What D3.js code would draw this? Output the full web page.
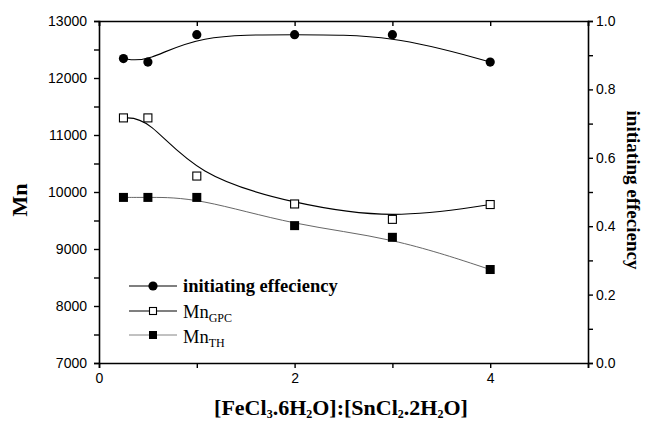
<!DOCTYPE html>
<html>
<head>
<meta charset="utf-8">
<script src="https://cdn.jsdelivr.net/npm/d3@7"></script>
<style>
  html, body { margin: 0; padding: 0; background: #fff; }
  svg { display: block; }
  .tick text { font-family: "Liberation Sans", Arial, sans-serif; font-size: 14px; fill: #000; }
  .serif { font-family: "Liberation Serif", "Times New Roman", serif; }
</style>
</head>
<body>
<svg id="chart" width="646" height="422"></svg>
<script>
// Molar ratio of [FeCl3.6H2O]:[SnCl2.2H2O]
const ratio = [0.25, 0.5, 1, 2, 3, 4];
// Initiating efficiency (right axis)
const efficiency = [0.89, 0.88, 0.96, 0.96, 0.96, 0.88];
// Number-average molecular weight from GPC
const mnGPC = [11300, 11300, 10280, 9790, 9520, 9780];
// Theoretical number-average molecular weight
const mnTH = [9905, 9905, 9905, 9410, 9205, 8640];

const xTicks = [0, 1, 2, 3, 4, 5];
const xLabels = [0, 2, 4];
const yTicks = d3.range(7000, 13001, 500);
const yLabels = [7000, 8000, 9000, 10000, 11000, 12000, 13000];
const y2Ticks = d3.range(0, 1.001, 0.1);
const y2Labels = [0, 0.2, 0.4, 0.6, 0.8, 1.0];

const svg = d3.select("#chart");
const m = { left: 99, right: 588, top: 21, bottom: 363 };

const x = d3.scaleLinear().domain([0, 5]).range([m.left, m.right]);
const y = d3.scaleLinear().domain([7000, 13000]).range([m.bottom, m.top]);
const y2 = d3.scaleLinear().domain([0, 1]).range([m.bottom, m.top]);

function styleAxis(g) {
  g.select(".domain").attr("stroke", "#000").attr("stroke-width", 1.6);
  g.selectAll(".tick line").attr("stroke", "#000").attr("stroke-width", 1.4);
}

// Bottom axis
svg.append("g").attr("transform", `translate(0,${m.bottom})`)
  .call(d3.axisBottom(x).tickValues(xTicks).tickSizeOuter(0).tickSize(5).tickPadding(5)
    .tickFormat(d => xLabels.includes(d) ? d : ""))
  .call(styleAxis);

// Top axis (inward ticks)
svg.append("g").attr("transform", `translate(0,${m.top})`)
  .call(d3.axisTop(x).tickValues(xTicks).tickSizeOuter(0).tickSize(-5).tickFormat(""))
  .call(styleAxis);

// Left axis
svg.append("g").attr("transform", `translate(${m.left},0)`)
  .call(d3.axisLeft(y).tickValues(yTicks).tickSizeOuter(0).tickSize(5).tickPadding(7)
    .tickFormat(d => yLabels.includes(d) ? d : ""))
  .call(styleAxis);

// Right axis
svg.append("g").attr("transform", `translate(${m.right},0)`)
  .call(d3.axisRight(y2).tickValues(y2Ticks).tickSizeOuter(0).tickSize(5).tickPadding(3)
    .tickFormat(d => y2Labels.some(v => Math.abs(v - d) < 1e-9) ? d3.format(".1f")(d) : ""))
  .call(styleAxis);

// Smoothed curves
const lineEff = d3.line().x((d, i) => x(ratio[i])).y(d => y2(d)).curve(d3.curveBasis);
const lineMn = d3.line().x((d, i) => x(ratio[i])).y(d => y(d)).curve(d3.curveBasis);

svg.append("path").attr("d", lineEff(efficiency)).attr("fill", "none").attr("stroke", "#000").attr("stroke-width", 1.1);
svg.append("path").attr("d", lineMn(mnGPC)).attr("fill", "none").attr("stroke", "#000").attr("stroke-width", 1.1);
svg.append("path").attr("d", lineMn(mnTH)).attr("fill", "none").attr("stroke", "#555").attr("stroke-width", 0.9);

// Markers
svg.append("g").selectAll("circle").data(efficiency).join("circle")
  .attr("cx", (d, i) => x(ratio[i])).attr("cy", d => y2(d)).attr("r", 4.6).attr("fill", "#000");

svg.append("g").selectAll("rect").data(mnGPC).join("rect")
  .attr("x", (d, i) => x(ratio[i]) - 4).attr("y", d => y(d) - 4)
  .attr("width", 8).attr("height", 8).attr("fill", "#fff").attr("stroke", "#000").attr("stroke-width", 1.1);

svg.append("g").selectAll("rect").data(mnTH).join("rect")
  .attr("x", (d, i) => x(ratio[i]) - 4.5).attr("y", d => y(d) - 4.5)
  .attr("width", 9).attr("height", 9).attr("fill", "#000");

// Legend
const legend = svg.append("g");
const lx0 = 129, lx1 = 177, lmx = 153;
const rows = [
  { y: 286, stroke: "#000", sw: 1.1, marker: "circle" },
  { y: 311, stroke: "#000", sw: 1.1, marker: "open" },
  { y: 335, stroke: "#777", sw: 0.9, marker: "filled" }
];
rows.forEach(r => {
  legend.append("line").attr("x1", lx0).attr("x2", lx1).attr("y1", r.y).attr("y2", r.y)
    .attr("stroke", r.stroke).attr("stroke-width", r.sw);
  if (r.marker === "circle") {
    legend.append("circle").attr("cx", lmx).attr("cy", r.y).attr("r", 4.6).attr("fill", "#000");
  } else if (r.marker === "open") {
    legend.append("rect").attr("x", lmx - 3.5).attr("y", r.y - 3.5).attr("width", 7).attr("height", 7)
      .attr("fill", "#fff").attr("stroke", "#000").attr("stroke-width", 1.1);
  } else {
    legend.append("rect").attr("x", lmx - 4).attr("y", r.y - 4).attr("width", 8).attr("height", 8).attr("fill", "#000");
  }
});
legend.append("text").attr("class", "serif").attr("x", 183).attr("y", 292)
  .attr("font-size", 18.5).attr("font-weight", "bold").text("initiating effeciency");
const t2 = legend.append("text").attr("class", "serif").attr("x", 183).attr("y", 318).attr("font-size", 18.5);
t2.append("tspan").text("Mn");
t2.append("tspan").attr("font-size", 12).attr("dy", 4).text("GPC");
const t3 = legend.append("text").attr("class", "serif").attr("x", 183).attr("y", 343).attr("font-size", 18.5);
t3.append("tspan").text("Mn");
t3.append("tspan").attr("font-size", 12).attr("dy", 4).text("TH");

// Axis titles
svg.append("text").attr("class", "serif").attr("font-size", 22).attr("font-weight", "bold")
  .attr("text-anchor", "middle").attr("transform", "translate(27,200) rotate(-90)").text("Mn");

svg.append("text").attr("class", "serif").attr("font-size", 19).attr("font-weight", "bold")
  .attr("text-anchor", "middle").attr("transform", "translate(627,190) rotate(90)").text("initiating effeciency");

const xt = svg.append("text").attr("class", "serif").attr("font-size", 22).attr("font-weight", "bold")
  .attr("text-anchor", "middle").attr("x", 341).attr("y", 415);
const parts = [["[FeCl", 0], ["3", 1], [".6H", 0], ["2", 1], ["O]:[SnCl", 0], ["2", 1], [".2H", 0], ["2", 1], ["O]", 0]];
let prevSub = 0;
parts.forEach(([s, sub]) => {
  const dy = sub - prevSub;
  xt.append("tspan").attr("font-size", sub ? 12 : 22).attr("dy", dy ? dy * 3 : 0).text(s);
  prevSub = sub;
});
</script>
</body>
</html>
